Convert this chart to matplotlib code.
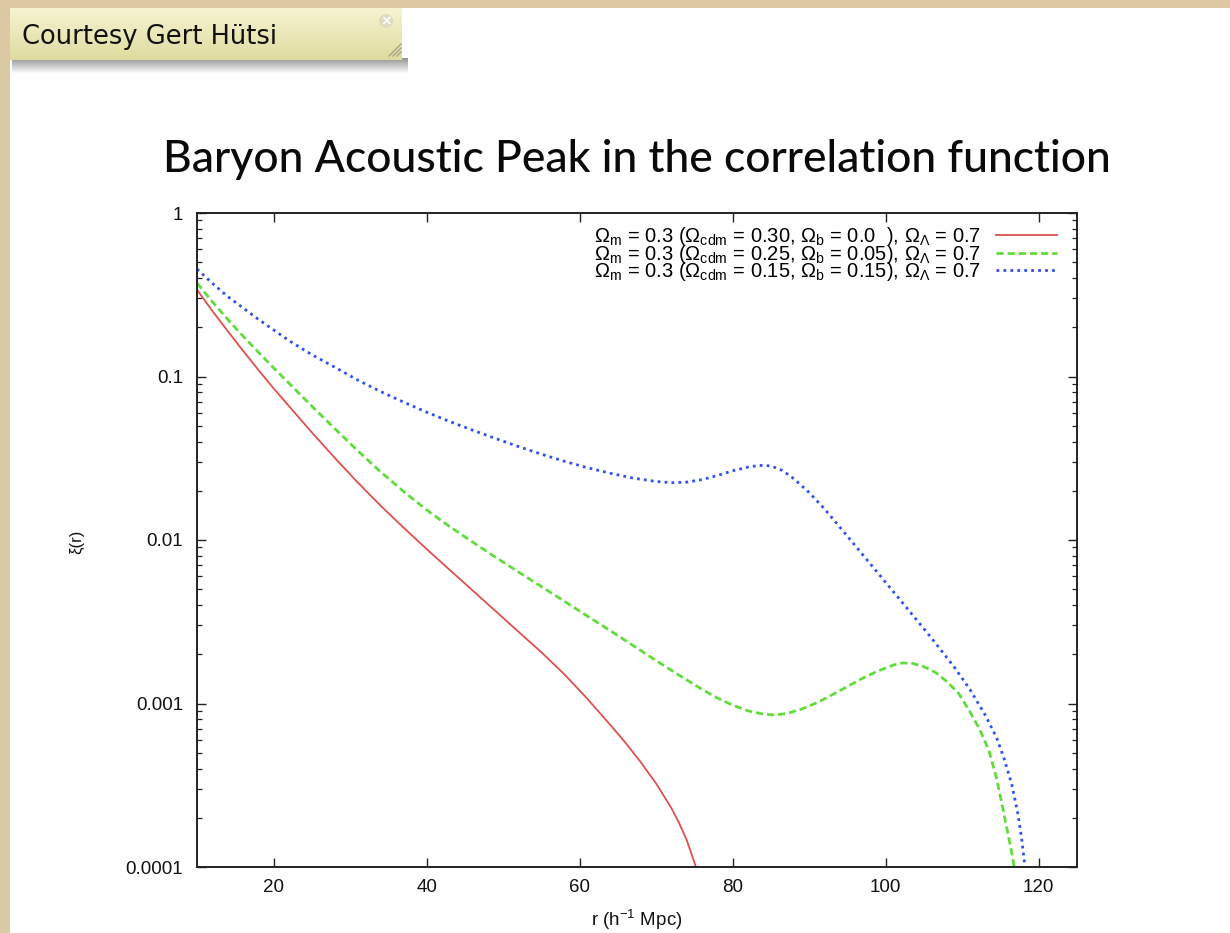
import numpy as np
import matplotlib
matplotlib.use('Agg')
import matplotlib.pyplot as plt
from matplotlib.patches import Rectangle, Circle
from matplotlib.ticker import FixedLocator, FixedFormatter, LogLocator, NullFormatter

plt.rcParams['font.family'] = ['Liberation Sans', 'DejaVu Sans']
plt.rcParams['mathtext.fontset'] = 'custom'
plt.rcParams['mathtext.rm'] = 'Liberation Sans'
plt.rcParams['mathtext.it'] = 'Liberation Sans:italic'
plt.rcParams['mathtext.bf'] = 'Liberation Sans:bold'

# xi(r) for three baryon fractions, Omega_m = 0.3 in all cases
r_b00 = [10, 12, 14, 16, 18, 20, 22, 25, 28, 31, 34, 37, 40, 43, 46, 49, 52,
         55, 58, 61, 64, 66, 68, 70, 72, 73, 74, 75.2]
xi_b00 = [0.339, 0.252, 0.190, 0.144, 0.110, 0.0847, 0.0661, 0.0455, 0.0318,
          0.0225, 0.0162, 0.0119, 0.00881, 0.00658, 0.00492, 0.00368, 0.00275,
          0.00206, 0.00151, 0.00107, 0.000741, 0.000575, 0.000437, 0.000324,
          0.000229, 0.000186, 0.000146, 0.000100]

r_b05 = [10, 12, 14, 16, 18, 20, 22, 25, 28, 31, 34, 37, 40, 43, 46, 49, 52,
         55, 58, 61, 64, 67, 70, 73, 76, 78, 80, 82, 84, 85.5, 87, 89, 91, 93,
         95, 97, 99, 101, 102.2, 103.5, 105, 106.5, 108, 109.5, 111, 112.3,
         113.5, 114.5, 115.3, 116, 116.5, 116.8]
xi_b05 = [0.373, 0.287, 0.224, 0.177, 0.141, 0.113, 0.0912, 0.0659, 0.0480,
          0.0352, 0.0261, 0.0198, 0.0153, 0.0121, 0.00973, 0.00785, 0.00638,
          0.00519, 0.00422, 0.00343, 0.00279, 0.00226, 0.00183, 0.00149,
          0.00122, 0.00108, 0.000977, 0.000902, 0.000861, 0.000851, 0.000867,
          0.000923, 0.00101, 0.00113, 0.00127, 0.00143, 0.00158, 0.00172,
          0.00177, 0.00176, 0.00168, 0.00155, 0.00136, 0.00116, 0.000891,
          0.000692, 0.000513, 0.000347, 0.000229, 0.000158, 0.000120, 0.000100]

r_b15 = [10, 12, 14, 16, 18, 20, 22, 25, 28, 31, 34, 37, 40, 43, 46, 49, 52,
         55, 58, 61, 64, 67, 70, 72, 74, 76, 78, 80, 82, 83.5, 85, 86.5, 88,
         90, 92, 94, 97, 100, 103, 106, 109, 111, 113, 114.5, 115.5, 116.5,
         117.3, 117.8, 118.2]
xi_b15 = [0.454, 0.372, 0.309, 0.263, 0.224, 0.193, 0.166, 0.136, 0.114,
          0.0951, 0.0809, 0.0697, 0.0605, 0.0531, 0.0470, 0.0418, 0.0373,
          0.0335, 0.0303, 0.0277, 0.0256, 0.0239, 0.0228, 0.0224, 0.0226,
          0.0234, 0.0248, 0.0265, 0.0279, 0.0286, 0.0284, 0.0266, 0.0237,
          0.0195, 0.0155, 0.0120, 0.00813, 0.00550, 0.00372, 0.00251, 0.00166,
          0.00122, 0.000851, 0.000617, 0.000457, 0.000316, 0.000209, 0.000145,
          0.000100]

labels = [
    r'$\Omega_{\rm m}$ = 0.3 ($\Omega_{\rm cdm}$ = 0.30, $\Omega_{\rm b}$ = 0.0  ), $\Omega_{\Lambda}$ = 0.7',
    r'$\Omega_{\rm m}$ = 0.3 ($\Omega_{\rm cdm}$ = 0.25, $\Omega_{\rm b}$ = 0.05), $\Omega_{\Lambda}$ = 0.7',
    r'$\Omega_{\rm m}$ = 0.3 ($\Omega_{\rm cdm}$ = 0.15, $\Omega_{\rm b}$ = 0.15), $\Omega_{\Lambda}$ = 0.7',
]
x_ticks = [20, 40, 60, 80, 100, 120]
y_ticks = [1e-4, 1e-3, 1e-2, 1e-1, 1]
y_tick_labels = ['0.0001', '0.001', '0.01', '0.1', '1']

W, H = 1230, 933
fig = plt.figure(figsize=(W / 100, H / 100), dpi=100)
fig.patch.set_facecolor('#dcc9a4')

# white slide
fig.add_artist(Rectangle((10 / W, 0), 1, 1 - 8 / H, transform=fig.transFigure,
                         facecolor='white', edgecolor='none', zorder=0))

# sticky note with drop shadow
shadow = fig.add_axes([12 / W, 1 - 74 / H, 396 / W, 16 / H], zorder=1)
sh = np.zeros((16, 2, 4))
sh[..., :3] = 0.25
sh[..., 3] = np.linspace(0.55, 0.0, 16)[:, None]
shadow.imshow(sh, aspect='auto', extent=[0, 1, 0, 1], interpolation='bilinear')
shadow.axis('off')

note = fig.add_axes([10 / W, 1 - 60 / H, 392 / W, 52 / H], zorder=2)
top = np.array([0.965, 0.955, 0.82])
bot = np.array([0.875, 0.86, 0.62])
grad = np.linspace(0, 1, 64)[:, None, None]
img = top * (1 - grad) + bot * grad
img = np.repeat(img, 2, axis=1)
note.imshow(img, aspect='auto', extent=[10, 402, 60, 8], interpolation='bilinear')
note.set_xlim(10, 402)
note.set_ylim(60, 8)
note.axis('off')
note.text(22, 37, 'Courtesy Gert Hütsi', fontsize=18.5, color='#111111',
          family=['Lucida Grande', 'DejaVu Sans'], va='center', ha='left')
note.add_patch(Circle((386, 21), 7, facecolor='#dedcc0', edgecolor='none'))
note.text(386, 21.5, '×', fontsize=10, color='white', ha='center', va='center',
          family='DejaVu Sans', fontweight='bold')
for k in range(3):
    note.plot([389 + 4 * k, 401], [56, 44 + 4 * k], color='#a09e86', lw=0.9)

# title
fig.text(0.5175, 1 - 172 / H, 'Baryon Acoustic Peak in the correlation function',
         fontsize=32, family=['Lato', 'DejaVu Sans'], fontweight='medium',
         ha='center', va='baseline', color='#0a0a0a')

ax = fig.add_axes([197 / W, 1 - 867 / H, 880 / W, 654 / H], zorder=3)
ax.plot(r_b00, xi_b00, color='#e0504f', lw=1.3, label=labels[0])
ax.plot(r_b05, xi_b05, color='#62dc3c', lw=2.0, linestyle=(0, (2.6, 1.4)),
        label=labels[1])
ax.plot(r_b15, xi_b15, color='#2f52ec', lw=2.0, linestyle=(0, (1, 1.5)),
        label=labels[2])

ax.set_yscale('log')
ax.set_xlim(10, 125)
ax.set_ylim(1e-4, 1)
ax.xaxis.set_major_locator(FixedLocator(x_ticks))
ax.yaxis.set_major_locator(FixedLocator(y_ticks))
ax.yaxis.set_major_formatter(FixedFormatter(y_tick_labels))
ax.yaxis.set_minor_locator(LogLocator(base=10, subs=np.arange(2, 10), numticks=20))
ax.yaxis.set_minor_formatter(NullFormatter())

ax.tick_params(which='both', direction='in', top=True, right=True,
               color='#222222', labelsize=13.5, labelcolor='#111111')
ax.tick_params(axis='x', which='major', length=6.5, width=1.0, pad=9)
ax.tick_params(axis='y', which='major', length=6.5, width=1.0, pad=10)
ax.tick_params(axis='y', which='minor', length=3.5, width=0.9)
for sp in ax.spines.values():
    sp.set_linewidth(1.4)
    sp.set_color('#222222')

# gnuplot-style key: tightly stacked rows, sample line after the text
leg = ax.legend(loc='upper right', bbox_to_anchor=(1.0, 1.012), frameon=False,
                markerfirst=False, fontsize=14.5, handlelength=3.0,
                handletextpad=0.75, labelspacing=-0.28, borderaxespad=0.9,
                borderpad=0.1)

fig.text(637 / W, 1 - 926 / H, r'r (h$^{-1}$ Mpc)', fontsize=13.5,
         ha='center', va='baseline', color='#111111')
fig.text(77 / W, 1 - 542 / H, 'ξ(r)', fontsize=12, rotation=90,
         ha='center', va='center', color='#111111')

fig.savefig('out.png', dpi=100, facecolor=fig.get_facecolor())
